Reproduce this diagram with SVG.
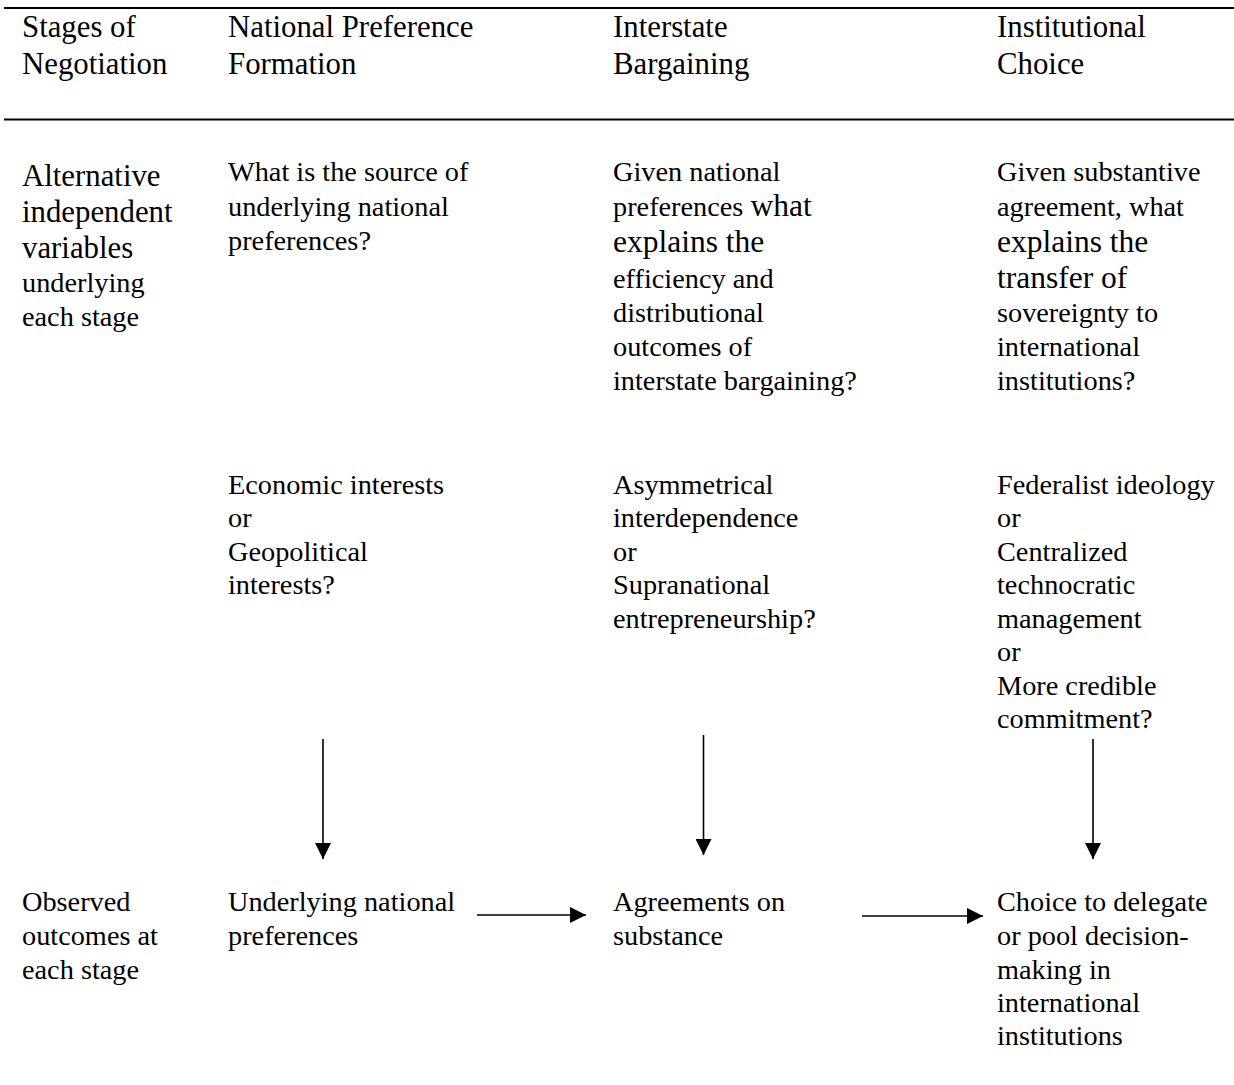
<svg xmlns="http://www.w3.org/2000/svg" width="1234" height="1085" viewBox="0 0 1234 1085">
<style>
text{font-family:"Liberation Serif","Times New Roman",serif;fill:#000}
.b{font-size:28.3px}
.h{font-size:30.8px}
.big{font-size:31.5px}
.rule{stroke:#000;stroke-width:2.2}
.conn{stroke:#000;stroke-width:1.6;fill:none}
</style>
<defs>
<marker id="ah2" viewBox="0 0 16 16" refX="16" refY="8" markerWidth="16" markerHeight="16" markerUnits="userSpaceOnUse" orient="auto">
<path d="M0,0 L16,8 L0,16 z" fill="#000"/>
</marker>
</defs>
<rect width="1234" height="1085" fill="#fff"/>
<g id="rules">
<line class="rule" x1="4" y1="8" x2="1234" y2="8"/>
<line class="rule" x1="4" y1="119.5" x2="1234" y2="119.5"/>
</g>
<g id="header">
<text class="h"><tspan x="22" y="37">Stages of</tspan><tspan x="22" y="74">Negotiation</tspan></text>
<text class="h"><tspan x="228" y="37">National Preference</tspan><tspan x="228" y="74">Formation</tspan></text>
<text class="h"><tspan x="613" y="37">Interstate</tspan><tspan x="613" y="74">Bargaining</tspan></text>
<text class="h"><tspan x="997" y="37">Institutional</tspan><tspan x="997" y="74">Choice</tspan></text>
</g>
<g id="row-label-alternative">
<text><tspan class="h" x="22" y="186">Alternative</tspan><tspan class="h" x="22" y="222">independent</tspan><tspan class="h" x="22" y="258">variables</tspan><tspan class="b" x="22" y="292">underlying</tspan><tspan class="b" x="22" y="326">each stage</tspan></text>
</g>
<g id="q-preference">
<text class="b"><tspan x="228" y="181">What is the source of</tspan><tspan x="228" y="216">underlying national</tspan><tspan x="228" y="250">preferences?</tspan></text>
</g>
<g id="q-bargaining">
<text class="b"><tspan x="613" y="181">Given national</tspan><tspan x="613" y="216">preferences <tspan class="big">what</tspan></tspan><tspan class="big" x="613" y="252">explains the</tspan><tspan x="613" y="288">efficiency and</tspan><tspan x="613" y="322">distributional</tspan><tspan x="613" y="356">outcomes of</tspan><tspan x="613" y="390">interstate bargaining?</tspan></text>
</g>
<g id="q-institutional">
<text class="b"><tspan x="997" y="181">Given substantive</tspan><tspan x="997" y="216">agreement, what</tspan><tspan class="big" x="997" y="252">explains the</tspan><tspan class="big" x="997" y="288">transfer of</tspan><tspan x="997" y="322">sovereignty to</tspan><tspan x="997" y="356">international</tspan><tspan x="997" y="390">institutions?</tspan></text>
</g>
<g id="iv-preference">
<text class="b"><tspan x="228" y="494">Economic interests</tspan><tspan x="228" y="527">or</tspan><tspan x="228" y="561">Geopolitical</tspan><tspan x="228" y="594">interests?</tspan></text>
</g>
<g id="iv-bargaining">
<text class="b"><tspan x="613" y="494">Asymmetrical</tspan><tspan x="613" y="527">interdependence</tspan><tspan x="613" y="561">or</tspan><tspan x="613" y="594">Supranational</tspan><tspan x="613" y="628">entrepreneurship?</tspan></text>
</g>
<g id="iv-institutional">
<text class="b"><tspan x="997" y="494">Federalist ideology</tspan><tspan x="997" y="527">or</tspan><tspan x="997" y="561">Centralized</tspan><tspan x="997" y="594">technocratic</tspan><tspan x="997" y="628">management</tspan><tspan x="997" y="661">or</tspan><tspan x="997" y="695">More credible</tspan><tspan x="997" y="728">commitment?</tspan></text>
</g>
<g id="row-label-observed">
<text class="b"><tspan x="22" y="911">Observed</tspan><tspan x="22" y="945">outcomes at</tspan><tspan x="22" y="979">each stage</tspan></text>
</g>
<g id="out-preferences">
<text class="b"><tspan x="228" y="911">Underlying national</tspan><tspan x="228" y="945">preferences</tspan></text>
</g>
<g id="out-agreements">
<text class="b"><tspan x="613" y="911">Agreements on</tspan><tspan x="613" y="945">substance</tspan></text>
</g>
<g id="out-choice">
<text class="b"><tspan x="997" y="911">Choice to delegate</tspan><tspan x="997" y="945">or pool decision-</tspan><tspan x="997" y="979">making in</tspan><tspan x="997" y="1012">international</tspan><tspan x="997" y="1045">institutions</tspan></text>
</g>
<g id="connectors">
<line class="conn" x1="323" y1="739" x2="323" y2="859" marker-end="url(#ah2)"/>
<line class="conn" x1="703.5" y1="735" x2="703.5" y2="855" marker-end="url(#ah2)"/>
<line class="conn" x1="1093" y1="739" x2="1093" y2="859" marker-end="url(#ah2)"/>
<line class="conn" x1="477" y1="915" x2="586" y2="915" marker-end="url(#ah2)"/>
<line class="conn" x1="862" y1="916" x2="983" y2="916" marker-end="url(#ah2)"/>
</g>
</svg>
